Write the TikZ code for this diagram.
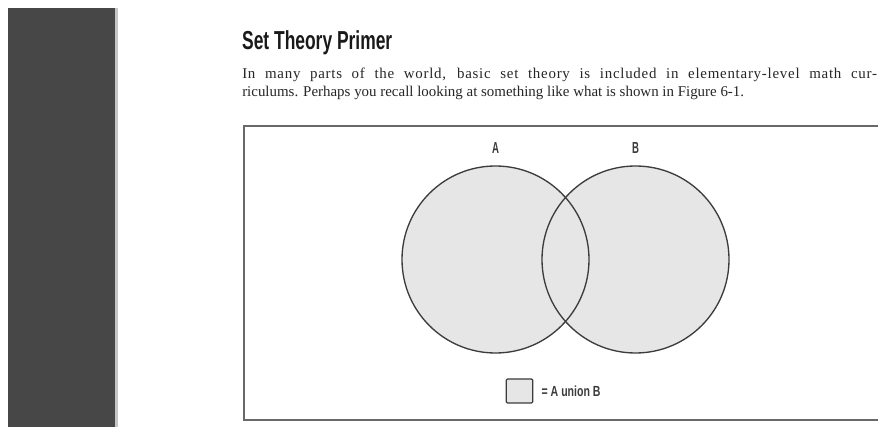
\documentclass[tikz,border=0pt]{standalone}
\usepackage{fontspec}
\usepackage{tikz}
\usetikzlibrary{positioning}
\setmainfont{Liberation Serif}
\newfontfamily\headfont{Liberation Sans}
\definecolor{sidebar}{RGB}{71,71,71}
\definecolor{setfill}{RGB}{230,230,230}
\definecolor{setline}{RGB}{60,60,60}
\definecolor{framegray}{RGB}{105,105,105}

\begin{document}
\begin{tikzpicture}[x=0.75pt,y=-0.75pt,
  setcircle/.style={circle,draw=setline,line width=1pt,minimum size=140.25pt,inner sep=0pt},
  setlabel/.style={inner sep=0pt,xscale=0.6,text=setline,font=\headfont\bfseries\fontsize{12}{12}\selectfont},
  bodyline/.style={anchor=base west,inner sep=0pt,text=black!85,font=\fontsize{11.2}{13}\selectfont}]
  \clip (0,0) rectangle (878,427);
  \fill[white] (0,0) rectangle (878,427);
  % page margin
  \fill[sidebar] (8,8) rectangle (115,430);
  \fill[gray!45] (115,8) rectangle (117.5,430);
  % heading and text
  \node[anchor=base west,inner sep=0pt,xscale=0.67,text=black!90,
    font=\headfont\bfseries\fontsize{19.5}{20}\selectfont] (title) at (242,50) {Set Theory Primer};
  \node[bodyline] (line1) at (242,79) {\hbox to 476pt{\addfontfeature{LetterSpace=5}In many parts of the world, basic set theory is included in elementary-level math cur-}};
  \node[bodyline] (line2) at (242,97) {riculums. Perhaps you recall looking at something like what is shown in Figure 6-1.};
  % figure frame
  \draw[framegray,line width=1.5pt] (900,126) -- (244,126) -- (244,420) -- (900,420);
  % the two sets
  \coordinate (cA) at (495.5,259.5);  \coordinate (cB) at (635.5,259.5);
  \fill[setfill] (cA) circle[radius=93.5] (cB) circle[radius=93.5];
  \node[setcircle] (setA) at (cA) {};  \node[setcircle] (setB) at (cB) {};
  \node[setlabel,above=9pt of setA] (labA) {A};
  \node[setlabel,above=9pt of setB] (labB) {B};
  % legend
  \node[draw=setline,fill=setfill,line width=0.9pt,rounded corners=1pt,
    minimum width=20pt,minimum height=18pt,inner sep=0pt] (key) at (519.5,391) {};
  \node[setlabel,xscale=1.2,font=\headfont\bfseries\fontsize{11}{11}\selectfont,
    right=6pt of key] (keytext) {= A union B};
\end{tikzpicture}
\end{document}
